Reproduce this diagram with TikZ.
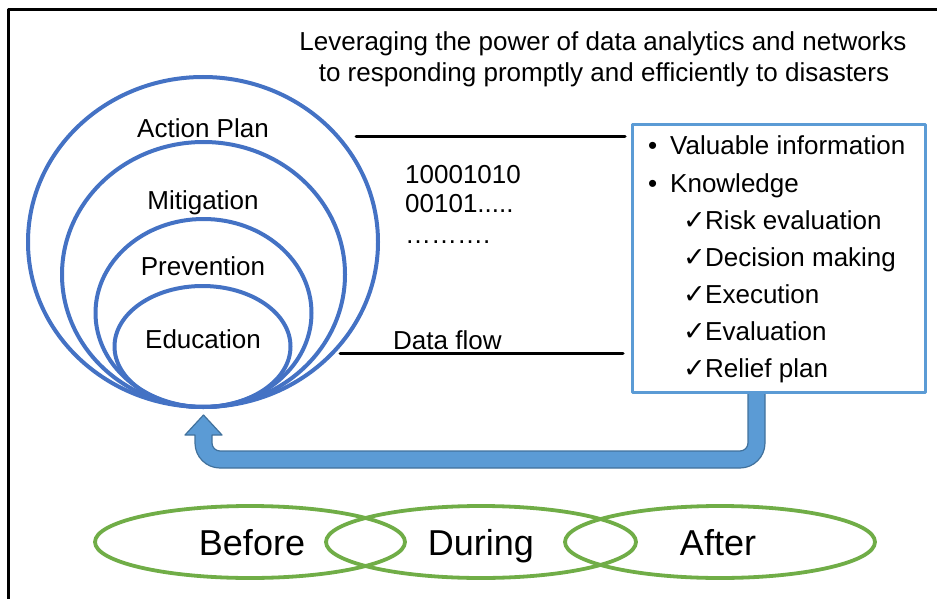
\documentclass[tikz,border=0pt]{standalone}
\usepackage{fontspec}
\setmainfont{Liberation Sans}
\newfontfamily\checkfont{DejaVu Sans}
\usetikzlibrary{shapes.geometric}

\definecolor{ringblue}{HTML}{4472C4}
\definecolor{boxblue}{HTML}{5B9BD5}
\definecolor{arrowedge}{HTML}{41719C}
\definecolor{phasegreen}{HTML}{70AD47}

\newcommand{\tick}{\makebox[22pt][l]{\checkfont\fontsize{27}{27}\selectfont ✓}}
\newcommand{\dotitem}{\makebox[22pt][l]{•}}

\begin{document}
\begin{tikzpicture}[x=1pt, y=-1pt, line cap=round, line join=round,
    ring/.style={draw=ringblue, line width=4pt, ellipse, inner sep=0pt, anchor=south},
    phase/.style={draw=phasegreen, line width=3.8pt, ellipse, inner sep=0pt,
        minimum width=310pt, minimum height=72pt},
    lbl/.style={font=\fontsize{26}{31}\selectfont, inner sep=0pt, anchor=base},
    itemlbl/.style={lbl, anchor=base west},
    phaselbl/.style={font=\fontsize{36}{43}\selectfont, inner sep=0pt, anchor=base},
    flowline/.style={line width=3pt}]

\useasboundingbox (0,0) rectangle (937,599);

% Frame (top and left edge)
\draw[line width=3pt, line cap=butt] (8,599) -- (8,10) -- (937,10);

% Title
\node[lbl] (title1) at (603,51) {Leveraging the power of data analytics and networks};
\node[lbl] (title2) at (604,82) {to responding promptly and efficiently to disasters};

% Nested rings, all touching at the bottom
\node[ring, minimum width=350pt, minimum height=330pt] (actplan) at (203,409) {};
\node[ring, minimum width=283pt, minimum height=265pt] (mitig) at (203.5,409) {};
\node[ring, minimum width=216pt, minimum height=188pt] (prevent) at (203.5,409) {};
\node[ring, minimum width=176pt, minimum height=121pt] (educ) at (202.5,409) {};

\node[lbl] (actlbl) at (203,138) {Action Plan};
\node[lbl] (mitlbl) at (203,209) {Mitigation};
\node[lbl] (prelbl) at (203,275) {Prevention};
\node[lbl] (edulbl) at (203,348) {Education};

% Feedback arrow: box back to the rings
\filldraw[fill=boxblue, draw=arrowedge, line width=1.2pt]
    (765,392) -- (765,443) .. controls (765,456.8) and (753.8,468) .. (740,468)
    -- (220,468) .. controls (206.2,468) and (195,456.8) .. (195,443)
    -- (195,435) -- (185,435) -- (203.5,415) -- (222,435) -- (212,435)
    -- (212,443) .. controls (212,447.4) and (215.6,451) .. (220,451)
    -- (740,451) .. controls (744.4,451) and (748,447.4) .. (748,443)
    -- (748,392) -- cycle;

% Information box
\node[draw=boxblue, line width=3pt, fill=white, inner sep=0pt,
    minimum width=293pt, minimum height=267pt] (info) at (778.5,258.5) {};

\node[itemlbl] (valinfo) at (648,155) {\dotitem Valuable information};
\node[itemlbl] (knowl)   at (648,192) {\dotitem Knowledge};
\node[itemlbl] (risk)    at (683,229) {\tick Risk evaluation};
\node[itemlbl] (decide)  at (683,266) {\tick Decision making};
\node[itemlbl] (exec)    at (683,303) {\tick Execution};
\node[itemlbl] (evalu)   at (683,340) {\tick Evaluation};
\node[itemlbl] (relief)  at (683,377) {\tick Relief plan};

% Data flow between rings and box
\coordinate (flowtopL) at (356,137);
\coordinate (flowtopR) at (625,137);
\coordinate (flowbotL) at (340,353);
\coordinate (flowbotR) at (623,353);
\draw[flowline] (flowtopL) -- (flowtopR);
\draw[flowline] (flowbotL) -- (flowbotR);

\node[itemlbl] (bits1) at (405,183) {10001010};
\node[itemlbl] (bits2) at (405,212) {00101.....};
\node[itemlbl] (bits3) at (405,243) {……….};
\node[itemlbl] (flowlbl) at (393,349) {Data flow};

% Phases
\node[phase] (before) at (250,542) {};
\node[phase] (during) at (481,542) {};
\node[phase] (after)  at (720,542) {};

\node[phaselbl] (beforelbl) at (252,555) {Before};
\node[phaselbl] (duringlbl) at (481,555) {During};
\node[phaselbl] (afterlbl)  at (718,555) {After};

\end{tikzpicture}
\end{document}
